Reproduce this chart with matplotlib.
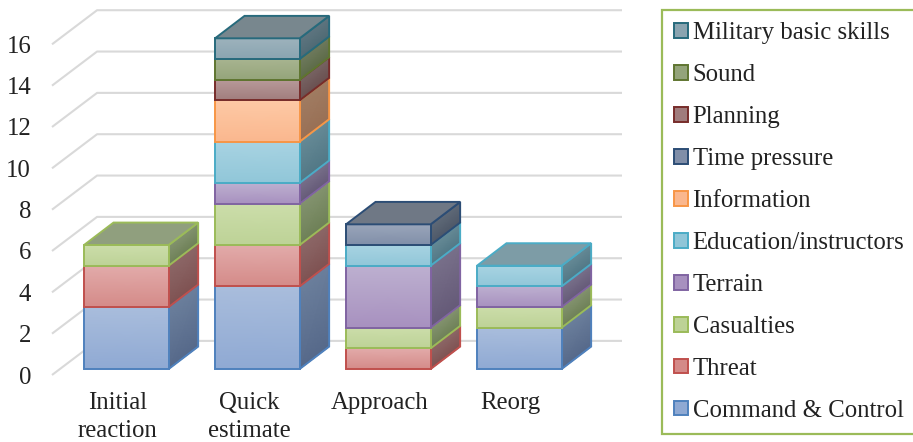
import numpy as np
from matplotlib import pyplot as plt
from matplotlib.patches import Patch, Polygon
from matplotlib.colors import to_rgb

categories = ['Initial\nreaction', 'Quick\nestimate', 'Approach', 'Reorg']

command = [3, 4, 0, 2]
threat = [2, 2, 1, 0]
casualties = [1, 2, 1, 1]
terrain = [0, 1, 3, 1]
education = [0, 2, 1, 1]
information = [0, 2, 0, 0]
time_pressure = [0, 0, 1, 0]
planning = [0, 1, 0, 0]
sound = [0, 1, 0, 0]
military = [0, 1, 0, 0]

series = [command, threat, casualties, terrain, education,
          information, time_pressure, planning, sound, military]
names = ['Command & Control', 'Threat', 'Casualties', 'Terrain',
         'Education/instructors', 'Information', 'Time pressure',
         'Planning', 'Sound', 'Military basic skills']

edges = ['#4F81BD', '#C0504D', '#9BBB59', '#8064A2', '#4BACC6',
         '#F79646', '#2C4D75', '#772C2A', '#5F7530', '#276A7C']
front_hi = ['#A9BDDC', '#E2ABAA', '#CCDDAA', '#BDB0D0', '#A8D3E2',
            '#FDC9A5', '#9AA6BA', '#B89A9A', '#A8B490', '#9DB2BC']
front_lo = ['#8FA9D3', '#D48A88', '#BDD296', '#A790BF', '#90C6D8',
            '#FAB78E', '#808EA8', '#A07C7C', '#94A47A', '#8AA4B0']
side_hi = ['#6B7F9C', '#8C6767', '#83936F', '#78708A', '#668A96',
           '#A07C62', '#5F6A78', '#786464', '#6F7A5E', '#5F7580']
side_lo = ['#56698A', '#7F5252', '#6E8057', '#655A78', '#527886',
           '#997055', '#4E5868', '#6A5050', '#5D6B48', '#4F6A74']
top_col = ['#6B7F9C', '#8C6767', '#909F7E', '#78708A', '#7D9CA6',
           '#A07C62', '#6F7885', '#786464', '#6F7A5E', '#78878E']

W, H = 913, 442
BAR_HALF = 0.323
# oblique depth of the bars, in data units
DX, DY = 0.225, 1.085
# the floor and the back wall of the grid
FLOOR = -0.29
WALL_DX, WALL_DY = 0.344, 1.65
GRID_COL = '#D9D9D9'
LW = 1.4
FS = 17.8

plt.rcParams['font.family'] = ['Liberation Serif']
plt.rcParams['font.size'] = FS
plt.rcParams['text.color'] = '#222222'


def shaded_quad(ax, xs, ys, c_hi, c_lo, edge, z):
    # xs, ys go lower left, lower right, upper right, upper left
    X = np.array([[xs[0], xs[1]], [xs[3], xs[2]]])
    Y = np.array([[ys[0], ys[1]], [ys[3], ys[2]]])
    lo, hi = to_rgb(c_lo), to_rgb(c_hi)
    C = np.array([[lo, lo], [hi, hi]])
    ax.pcolormesh(X, Y, C, shading='gouraud', zorder=z)
    ax.add_patch(Polygon(np.column_stack([xs, ys]), closed=True, fill=False,
                         edgecolor=edge, linewidth=LW, joinstyle='miter', zorder=z + 0.5))


fig = plt.figure(figsize=(W / 100, H / 100), dpi=100)
ax = fig.add_axes([52 / W, 1 - 375 / H, 570 / W, 365 / H])
ax.set_xlim((52 - 126.35) / 131, (622 - 126.35) / 131)
ax.set_ylim(FLOOR, 17.37)

x_left = ax.get_xlim()[0]
x_right = ax.get_xlim()[1]
for v in range(0, 18, 2):
    ax.plot([x_left, x_left + WALL_DX, x_right],
            [v + FLOOR, v + FLOOR + WALL_DY, v + FLOOR + WALL_DY],
            color=GRID_COL, lw=1.5, solid_capstyle='butt', zorder=1, clip_on=False)

z = 2
for i in range(len(categories)):
    base = 0
    top_idx = max(k for k in range(len(series)) if series[k][i] > 0)
    for k, s in enumerate(series):
        val = s[i]
        if val == 0:
            continue
        x0, x1 = i - BAR_HALF, i + BAR_HALF
        y0, y1 = base, base + val
        shaded_quad(ax, [x1, x1 + DX, x1 + DX, x1], [y0, y0 + DY, y1 + DY, y1],
                    side_hi[k], side_lo[k], edges[k], z)
        shaded_quad(ax, [x0, x1, x1, x0], [y0, y0, y1, y1],
                    front_hi[k], front_lo[k], edges[k], z + 1)
        if k == top_idx:
            ax.add_patch(Polygon([[x0, y1], [x1, y1], [x1 + DX, y1 + DY], [x0 + DX, y1 + DY]],
                                 closed=True, facecolor=top_col[k], edgecolor=edges[k],
                                 linewidth=LW, joinstyle='miter', zorder=z + 1.5))
        base = y1
        z += 2

# tick labels sit on the front edge of the floor
yvals = np.arange(0, 18, 2)
ax.set_yticks(yvals + FLOOR, [str(v) for v in yvals])
ax.set_xticks(np.arange(len(categories)) - 0.065, categories, linespacing=1.34)
ax.tick_params(axis='y', length=0, pad=15, labelsize=FS, labelcolor='#222222')
ax.tick_params(axis='x', length=0, pad=12.5, labelsize=FS, labelcolor='#222222')
for sp in ax.spines.values():
    sp.set_visible(False)

handles = [Patch(facecolor=front_lo[k], edgecolor=edges[k], linewidth=1.4)
           for k in range(len(series) - 1, -1, -1)]
leg = ax.legend(handles, names[::-1], loc='upper left',
                bbox_to_anchor=(662 / W, 1 - 10 / H), bbox_transform=fig.transFigure,
                borderaxespad=0, fontsize=FS, fancybox=False, framealpha=1,
                edgecolor='#9BBB59', handlelength=0.55, handleheight=0.55,
                handletextpad=0.2, labelspacing=0.808, borderpad=0.485)
leg.get_frame().set_linewidth(1.6)

fig.savefig('out.png', dpi=100)
